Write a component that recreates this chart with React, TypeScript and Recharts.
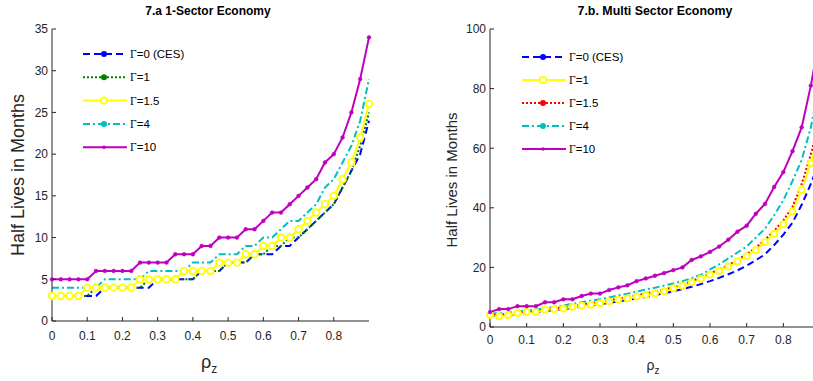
import React from 'react'
import { LineChart, Line, XAxis, YAxis, Legend, Label } from 'recharts'

const FONT = '"Liberation Sans", Arial, sans-serif'
const SERIF = '"Liberation Serif", "Times New Roman", serif'
const AXIS = '#262626'

// persistence of the shock, shared by both panels
const rhoZ = [
  0, 0.025, 0.05, 0.075, 0.1, 0.125, 0.15, 0.175, 0.2, 0.225, 0.25, 0.275, 0.3,
  0.325, 0.35, 0.375, 0.4, 0.425, 0.45, 0.475, 0.5, 0.525, 0.55, 0.575, 0.6,
  0.625, 0.65, 0.675, 0.7, 0.725, 0.75, 0.775, 0.8, 0.825, 0.85, 0.875, 0.9,
]
const rhoTicks = [0, 0.1, 0.2, 0.3, 0.4, 0.5, 0.6, 0.7, 0.8]

// 7.a  one-sector economy, half lives in months
const oneGamma0 = [3, 3, 3, 3, 3, 3, 4, 4, 4, 4, 4, 4, 5, 5, 5, 5, 5, 6, 6, 6, 7, 7, 7, 8, 8, 8, 9, 9, 10, 11, 12, 13, 14, 16, 18, 20, 24]
const oneGamma1 = [3, 3, 3, 3, 3, 4, 4, 4, 4, 4, 4, 5, 5, 5, 5, 5, 5, 6, 6, 6, 7, 7, 7, 8, 8, 9, 9, 10, 10, 11, 12, 13, 14, 16, 18, 21, 25]
const oneGamma15 = [3, 3, 3, 3, 4, 4, 4, 4, 4, 4, 5, 5, 5, 5, 5, 6, 6, 6, 6, 7, 7, 7, 8, 8, 9, 9, 10, 10, 11, 12, 13, 14, 15, 17, 19, 22, 26]
const oneGamma4 = [4, 4, 4, 4, 4, 4, 5, 5, 5, 5, 5, 6, 6, 6, 6, 6, 7, 7, 7, 8, 8, 8, 9, 9, 10, 10, 11, 12, 12, 13, 14, 16, 17, 19, 21, 24, 29]
const oneGamma10 = [5, 5, 5, 5, 5, 6, 6, 6, 6, 6, 7, 7, 7, 7, 8, 8, 8, 9, 9, 10, 10, 10, 11, 11, 12, 13, 13, 14, 15, 16, 17, 19, 20, 22, 25, 29, 34]
const oneTicks = [0, 5, 10, 15, 20, 25, 30, 35]

// 7.b  multi-sector economy
const multiGamma0 = [3.8, 3.9, 4.1, 4.4, 4.7, 5, 5.3, 5.7, 6, 6.4, 6.8, 7.2, 7.6, 8.1, 8.6, 9.1, 9.6, 10.1, 10.7, 11.3, 12, 12.7, 13.5, 14.4, 15.4, 16.5, 17.7, 19, 20.6, 22.4, 24.4, 27.5, 31, 35, 41, 48, 56]
const multiGamma1 = [4, 3.6, 4, 4.7, 5.1, 5, 5.8, 6, 6.2, 6.8, 7.2, 7.5, 8, 8.6, 9.2, 9.6, 10.2, 10.8, 11.3, 12, 13, 13.8, 15, 16.2, 17.6, 18.8, 20.3, 22, 23.8, 25.8, 28.5, 31.3, 34.5, 38.8, 46, 55, 66]
const multiGamma15 = [4.2, 4.2, 4.4, 4.8, 5.2, 5.4, 5.9, 6.3, 6.6, 7.1, 7.5, 8, 8.4, 9, 9.5, 10.1, 10.7, 11.3, 11.9, 12.6, 13.4, 14.3, 15.4, 16.6, 18, 19.3, 20.8, 22.6, 24.5, 26.6, 29.3, 32.3, 35.8, 40.3, 48, 58, 70]
const multiGamma4 = [4.5, 4.6, 4.8, 5.2, 5.5, 5.8, 6.3, 6.8, 7.2, 7.8, 8.3, 8.8, 9.3, 9.9, 10.6, 11.2, 11.9, 12.6, 13.2, 13.9, 14.6, 15.4, 16.4, 17.5, 19.3, 21, 23, 25, 27, 30, 33, 37.5, 42.5, 49, 56, 67, 82]
const multiGamma10 = [5, 6, 6, 7, 7, 7, 8.3, 8.3, 9.3, 9.3, 10.4, 11.2, 11.2, 12.4, 13.3, 14, 15.4, 16.3, 17.2, 18.1, 19.1, 20, 22.5, 23.7, 25.2, 27, 29.3, 32, 34, 38, 41.3, 47, 52, 59, 67, 81, 98]
const multiTicks = [0, 20, 40, 60, 80, 100]

type Marker = 'dot' | 'circle' | 'small'
type SeriesStyle = { key: string; name: string; color: string; dash?: string; marker: Marker }

const BLUE = '#0000ff'
const GREEN = '#008000'
const YELLOW = '#ffff00'
const RED = '#ff0000'
const CYAN = '#00bfbf'
const MAGENTA = '#bf00bf'

const oneStyles: SeriesStyle[] = [
  { key: 'g0', name: '0 (CES)', color: BLUE, dash: '7 4', marker: 'dot' },
  { key: 'g1', name: '1', color: GREEN, dash: '2 2', marker: 'dot' },
  { key: 'g15', name: '1.5', color: YELLOW, marker: 'circle' },
  { key: 'g4', name: '4', color: CYAN, dash: '7 3 2 3', marker: 'dot' },
  { key: 'g10', name: '10', color: MAGENTA, marker: 'small' },
]

const multiStyles: SeriesStyle[] = [
  { key: 'g0', name: '0 (CES)', color: BLUE, dash: '7 4', marker: 'dot' },
  { key: 'g1', name: '1', color: YELLOW, marker: 'circle' },
  { key: 'g15', name: '1.5', color: RED, dash: '2 2', marker: 'dot' },
  { key: 'g4', name: '4', color: CYAN, dash: '7 3 2 3', marker: 'dot' },
  { key: 'g10', name: '10', color: MAGENTA, marker: 'small' },
]

const oneRows = rhoZ.map((rho, i) => ({
  rho,
  g0: oneGamma0[i],
  g1: oneGamma1[i],
  g15: oneGamma15[i],
  g4: oneGamma4[i],
  g10: oneGamma10[i],
}))

const multiRows = rhoZ.map((rho, i) => ({
  rho,
  g0: multiGamma0[i],
  g1: multiGamma1[i],
  g15: multiGamma15[i],
  g4: multiGamma4[i],
  g10: multiGamma10[i],
}))

// inward tick marks, labels below / left of the axis line
const makeXTick = (dy: number) => (props: any) => {
  const { x, y, payload } = props
  return (
    <g>
      <line x1={x} x2={x} y1={y} y2={y - 4} stroke={AXIS} />
      <text x={x} y={y + dy} textAnchor="middle" fontSize={12} fontFamily={FONT} fill={AXIS}>
        {payload.value}
      </text>
    </g>
  )
}

const YTick = (props: any) => {
  const { x, y, payload } = props
  return (
    <g>
      <line x1={x} x2={x + 4} y1={y} y2={y} stroke={AXIS} />
      <text x={x - 4} y={y + 4.3} textAnchor="end" fontSize={12} fontFamily={FONT} fill={AXIS}>
        {payload.value}
      </text>
    </g>
  )
}

function markerFor(s: SeriesStyle, cx: number, cy: number) {
  if (s.marker === 'circle')
    return <circle cx={cx} cy={cy} r={3.2} fill="#fff" stroke={s.color} strokeWidth={1.8} />
  if (s.marker === 'small') return <circle cx={cx} cy={cy} r={1.8} fill={s.color} />
  return <circle cx={cx} cy={cy} r={3} fill={s.color} />
}

function GammaLegend({ items, gap, fontSize }: { items: SeriesStyle[]; gap: number; fontSize: number }) {
  return (
    <svg width={150} height={gap * 5 + 10} style={{ display: 'block', overflow: 'visible' }}>
      {items.map((s, i) => {
        const cy = 10 + i * gap
        return (
          <g key={s.key}>
            <line x1={3} x2={47} y1={cy} y2={cy} stroke={s.color} strokeWidth={2} strokeDasharray={s.dash} />
            {markerFor(s, 24, cy)}
            <text x={50} y={cy} dominantBaseline="central" fontSize={fontSize} fontFamily={FONT} fill="#000">
              <tspan fontFamily={SERIF}>Γ</tspan>={s.name}
            </text>
          </g>
        )
      })}
    </svg>
  )
}

function renderLines(styles: SeriesStyle[], circleR: number) {
  return styles.map((s) => {
    let dot: any = false
    if (s.marker === 'circle') dot = { r: circleR, fill: '#fff', stroke: s.color, strokeWidth: 1.8 }
    if (s.marker === 'small') dot = { r: 1.9, fill: s.color, stroke: s.color, strokeWidth: 0.5 }
    return (
      <Line
        key={s.key}
        type="linear"
        dataKey={s.key}
        stroke={s.color}
        strokeWidth={2}
        strokeDasharray={s.dash}
        dot={dot}
        activeDot={false}
        isAnimationActive={false}
      />
    )
  })
}

const titleStyle: React.CSSProperties = {
  position: 'absolute',
  top: 4,
  fontFamily: FONT,
  fontWeight: 'bold',
  fontSize: 12,
  lineHeight: '14px',
  textAlign: 'center',
  color: '#000',
  whiteSpace: 'nowrap',
}

export default function App() {
  return (
    <div
      style={{
        position: 'fixed',
        left: 0,
        top: 0,
        width: 813,
        height: 381,
        overflow: 'hidden',
        background: '#fff',
      }}
    >
      <div style={{ ...titleStyle, left: 108, width: 200 }}>7.a 1-Sector Economy</div>
      <div style={{ ...titleStyle, left: 555, width: 200, fontSize: 12.4 }}>7.b. Multi Sector Economy</div>

      {/* 1-sector panel */}
      <div style={{ position: 'absolute', left: 0, top: 0 }}>
        <LineChart width={400} height={381} data={oneRows} margin={{ top: 29, right: 31, bottom: 59, left: 51 }}>
          <XAxis
            dataKey="rho"
            type="number"
            domain={[0, 0.9]}
            ticks={rhoTicks}
            interval={0}
            height={1}
            tickSize={0}
            tickMargin={0}
            tickLine={false}
            axisLine={{ stroke: AXIS }}
            tick={makeXTick(18.5)}
          >
            <Label
              content={() => (
                <text x={209} y={368} textAnchor="middle" fontFamily={FONT} fill={AXIS}>
                  <tspan fontSize={18}>ρ</tspan>
                  <tspan fontSize={12} dy={5}>z</tspan>
                </text>
              )}
            />
          </XAxis>
          <YAxis
            type="number"
            domain={[0, 35]}
            ticks={oneTicks}
            interval={0}
            width={1}
            tickSize={0}
            tickMargin={0}
            tickLine={false}
            axisLine={{ stroke: AXIS }}
            tick={YTick}
          >
            <Label
              content={() => (
                <text
                  x={18}
                  y={175}
                  transform="rotate(-90 18 175)"
                  textAnchor="middle"
                  dominantBaseline="central"
                  fontSize={18}
                  fontFamily={FONT}
                  fill={AXIS}
                >
                  Half Lives in Months
                </text>
              )}
            />
          </YAxis>
          <Legend
            layout="horizontal"
            verticalAlign="middle"
            align="center"
            wrapperStyle={{ left: 80, top: 44, width: 150 }}
            content={() => <GammaLegend items={oneStyles} gap={23.3} fontSize={11.5} />}
          />
          {renderLines(oneStyles, 3.3)}
        </LineChart>
      </div>

      {/* multi-sector panel, runs past the right edge */}
      <div style={{ position: 'absolute', left: 410, top: 0 }}>
        <LineChart width={430} height={381} data={multiRows} margin={{ top: 29, right: 20, bottom: 53, left: 79 }}>
          <XAxis
            dataKey="rho"
            type="number"
            domain={[0, 0.9]}
            ticks={rhoTicks}
            interval={0}
            height={1}
            tickSize={0}
            tickMargin={0}
            tickLine={false}
            axisLine={{ stroke: AXIS }}
            tick={makeXTick(17)}
          >
            <Label
              content={() => (
                <text x={243} y={370} textAnchor="middle" fontFamily={FONT} fill={AXIS}>
                  <tspan fontSize={14}>ρ</tspan>
                  <tspan fontSize={10} dy={4}>z</tspan>
                </text>
              )}
            />
          </XAxis>
          <YAxis
            type="number"
            domain={[0, 100]}
            ticks={multiTicks}
            interval={0}
            width={1}
            tickSize={0}
            tickMargin={0}
            tickLine={false}
            axisLine={{ stroke: AXIS }}
            tick={YTick}
          >
            <Label
              content={() => (
                <text
                  x={41}
                  y={180}
                  transform="rotate(-90 41 180)"
                  textAnchor="middle"
                  dominantBaseline="central"
                  fontSize={15}
                  fontFamily={FONT}
                  fill={AXIS}
                >
                  Half Lives in Months
                </text>
              )}
            />
          </YAxis>
          <Legend
            layout="horizontal"
            verticalAlign="middle"
            align="center"
            wrapperStyle={{ left: 109, top: 47, width: 150 }}
            content={() => <GammaLegend items={multiStyles} gap={23} fontSize={11.5} />}
          />
          {renderLines(multiStyles, 3)}
        </LineChart>
      </div>
    </div>
  )
}
